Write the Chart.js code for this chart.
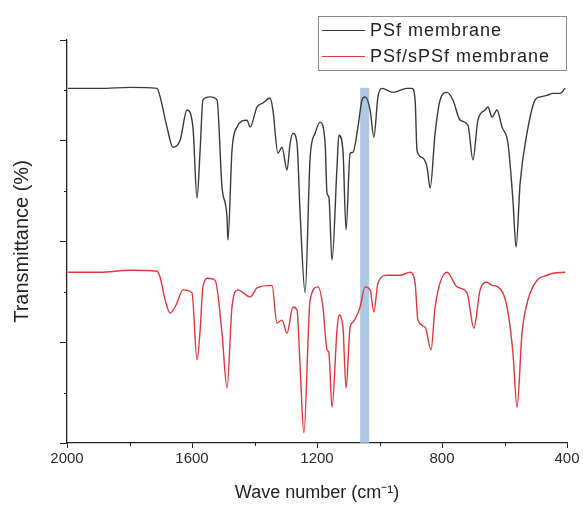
<!DOCTYPE html>
<html>
<head>
<meta charset="utf-8">
<script src="https://cdn.jsdelivr.net/npm/chart.js@4.4.1/dist/chart.umd.min.js"></script>
<style>
  body { margin: 0; background: #fff; }
  canvas { display: block; }
</style>
</head>
<body>
<canvas id="ftirChart" width="583" height="511"></canvas>
<script>
// FTIR spectra, values (arbitrary transmittance units)
const seriesNames = ["PSf membrane", "PSf/sPSf membrane"];
const seriesColors = ["#3a3a3a", "#e3363d"];

const psfWave = [1997,1894,1798,1712,1702,1680,1661,1638,1616,1597,1584,1574,1565,1542,1520,1504,1488,1485,1472,1456,1424,1414,1392,1373,1350,1341,1325,1312,1296,1286,1277,1264,1254,1238,1222,1206,1190,1174,1168,1162,1152,1136,1130,1117,1107,1094,1085,1069,1056,1046,1030,1018,1005,992,957,912,896,886,880,864,848,838,822,806,784,765,742,717,701,685,662,653,640,624,608,589,573,563,550,528,502,486,464,445,422,406];
const psfT = [7.04,7.04,7.06,7.04,6.87,6.27,5.87,6.01,6.61,6.27,4.86,5.81,6.81,6.87,6.81,5.08,4.48,4.03,5.81,6.27,6.41,6.27,6.67,6.75,6.85,6.61,5.75,5.87,5.42,5.95,6.15,5.95,4.56,2.98,5.67,6.15,6.37,5.95,4.96,4.88,3.63,5.48,6.11,5.81,4.23,5.75,5.77,6.27,6.81,6.87,6.61,6.07,6.87,7.04,6.96,7.04,7.04,6.81,5.81,5.67,5.48,5.06,6.15,6.81,6.96,6.81,6.41,6.31,5.62,6.41,6.61,6.67,6.47,6.61,6.27,5.95,4.82,3.89,5.16,6.15,6.81,6.87,6.90,6.94,6.94,7.04];

const spsfWave = [1997,1894,1798,1712,1702,1686,1670,1651,1629,1600,1584,1574,1565,1549,1526,1504,1488,1472,1453,1414,1392,1344,1328,1312,1296,1277,1264,1254,1242,1222,1197,1181,1168,1162,1152,1136,1130,1117,1107,1094,1085,1062,1046,1030,1018,1005,976,934,902,886,877,854,835,822,784,752,720,698,678,656,640,621,592,573,560,544,525,496,464,445,406];
const spsfT = [3.39,3.39,3.43,3.41,3.29,2.84,2.58,2.74,3.04,2.98,1.65,2.24,3.10,3.27,3.23,2.18,1.09,2.70,3.04,2.90,3.08,3.13,2.38,2.44,2.18,2.70,2.64,1.51,0.20,2.84,3.10,2.70,1.85,1.79,0.71,2.24,2.54,2.30,1.09,2.30,2.40,2.70,3.10,3.04,2.60,3.17,3.33,3.33,3.39,3.17,2.44,2.30,1.85,2.70,3.39,3.10,2.98,2.28,3.04,3.19,3.13,3.10,2.70,1.79,0.71,2.18,2.84,3.23,3.33,3.37,3.39];

// highlighted band (cm-1) and its top level
const bandFrom = 1062;
const bandTo = 1033;
const bandTop = 7.05;

const xMajorTicks = [2000, 1600, 1200, 800, 400];
const xMinorTicks = [1800, 1400, 1000, 600];
const yMinorTicks = [1, 3, 5, 7];

function toPoints(xs, ys) {
  return xs.map((x, i) => ({ x: x, y: ys[i] }));
}

// blue band behind the spectra
const bandPlugin = {
  id: "band",
  beforeDatasetsDraw(chart) {
    const { ctx, scales: { x, y } } = chart;
    const x1 = x.getPixelForValue(bandFrom);
    const x2 = x.getPixelForValue(bandTo);
    const top = y.getPixelForValue(bandTop);
    ctx.save();
    ctx.fillStyle = "rgba(160, 192, 224, 0.85)";
    ctx.fillRect(Math.min(x1, x2), top, Math.abs(x2 - x1), y.bottom - top);
    ctx.restore();
  },
};

// short minor ticks on both axes
const minorTickPlugin = {
  id: "minorTicks",
  afterDraw(chart) {
    const { ctx, scales: { x, y } } = chart;
    ctx.save();
    ctx.strokeStyle = "#222";
    ctx.lineWidth = 1;
    xMinorTicks.forEach((v) => {
      const px = Math.round(x.getPixelForValue(v)) + 0.5;
      ctx.beginPath();
      ctx.moveTo(px, y.bottom);
      ctx.lineTo(px, y.bottom + 3);
      ctx.stroke();
    });
    yMinorTicks.forEach((v) => {
      const py = Math.round(y.getPixelForValue(v)) + 0.5;
      ctx.beginPath();
      ctx.moveTo(x.left, py);
      ctx.lineTo(x.left - 3, py);
      ctx.stroke();
    });
    ctx.restore();
  },
};

// boxed legend at the top right
const boxLegendPlugin = {
  id: "boxLegend",
  afterDraw(chart) {
    const ctx = chart.ctx;
    const left = 318, top = 16, w = 248, h = 54;
    ctx.save();
    ctx.fillStyle = "#fff";
    ctx.fillRect(left, top, w, h);
    ctx.strokeStyle = "#8a8a8a";
    ctx.lineWidth = 1;
    ctx.strokeRect(left + 0.5, top + 0.5, w, h);
    ctx.font = "18px 'Liberation Sans', Arial, sans-serif";
    ctx.textBaseline = "middle";
    if ("letterSpacing" in ctx) ctx.letterSpacing = "1px";
    seriesNames.forEach((name, i) => {
      const yy = top + 14 + i * 26;
      ctx.strokeStyle = seriesColors[i];
      ctx.lineWidth = 1.2;
      ctx.beginPath();
      ctx.moveTo(left + 4, yy + 0.5);
      ctx.lineTo(left + 47, yy + 0.5);
      ctx.stroke();
      ctx.fillStyle = "#222";
      ctx.fillText(name, left + 52, yy + 1);
    });
    ctx.restore();
  },
};

const ctx = document.getElementById("ftirChart").getContext("2d");
const ftirChart = new Chart(ctx, {
  type: "line",
  data: {
    datasets: [
      {
        label: seriesNames[0],
        data: toPoints(psfWave, psfT),
        borderColor: seriesColors[0],
        borderWidth: 1.4,
        pointRadius: 0,
        cubicInterpolationMode: "monotone",
      },
      {
        label: seriesNames[1],
        data: toPoints(spsfWave, spsfT),
        borderColor: seriesColors[1],
        borderWidth: 1.4,
        pointRadius: 0,
        cubicInterpolationMode: "monotone",
      },
    ],
  },
  options: {
    responsive: false,
    animation: false,
    layout: {
      padding: { top: 40, right: 16, left: 0, bottom: 0 },
    },
    scales: {
      x: {
        type: "linear",
        reverse: true,
        min: 400,
        max: 2000,
        afterBuildTicks: (scale) => {
          scale.ticks = xMajorTicks.map((v) => ({ value: v }));
        },
        afterFit: (scale) => {
          scale.height = 68;
        },
        border: { color: "#222", width: 1.3 },
        grid: {
          drawOnChartArea: false,
          drawTicks: true,
          tickLength: 5,
          color: "#222",
        },
        ticks: {
          color: "#2a2a2a",
          padding: 2,
          maxRotation: 0,
          callback: (value) => String(value),
          font: { family: "'Liberation Sans', Arial, sans-serif", size: 15 },
        },
        title: {
          display: true,
          text: "Wave number (cm\u207B\u00B9)",
          color: "#222",
          padding: { top: 6, bottom: 7 },
          font: { family: "'Liberation Sans', Arial, sans-serif", size: 18 },
        },
      },
      y: {
        min: 0,
        max: 8,
        ticks: {
          stepSize: 2,
          callback: () => "",
        },
        afterFit: (scale) => {
          scale.width = 67;
        },
        border: { color: "#222", width: 1.3 },
        grid: {
          drawOnChartArea: false,
          drawTicks: true,
          tickLength: 7,
          color: "#222",
        },
        title: {
          display: true,
          text: "Transmittance (%)",
          color: "#222",
          padding: { top: 10, bottom: 0 },
          font: { family: "'Liberation Sans', Arial, sans-serif", size: 20 },
        },
      },
    },
    plugins: {
      legend: { display: false },
      tooltip: { enabled: false },
    },
  },
  plugins: [bandPlugin, minorTickPlugin, boxLegendPlugin],
});
</script>
</body>
</html>
